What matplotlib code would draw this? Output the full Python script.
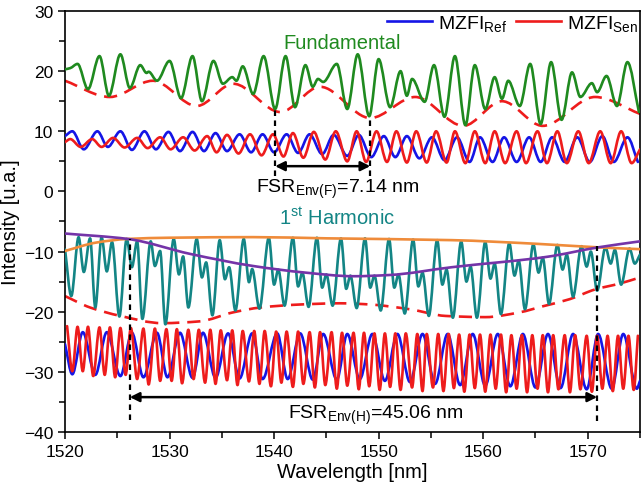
import numpy as np
import matplotlib
matplotlib.use("Agg")
import matplotlib.pyplot as plt
from matplotlib.path import Path
from matplotlib.patches import PathPatch
from matplotlib.lines import Line2D

plt.rcParams['font.family'] = ['Liberation Sans', 'DejaVu Sans']
plt.rcParams['mathtext.fontset'] = 'custom'
plt.rcParams['mathtext.rm'] = 'Liberation Sans'
plt.rcParams['mathtext.it'] = 'Liberation Sans:italic'

# ---------------- data (wavelength nm, intensity a.u.) ----------------
# Fundamental (green) - extrema
fund_x = [1520.0, 1520.5, 1521.2, 1522.2, 1523.3, 1524.2, 1525.3, 1526.2, 1527.2, 1527.8, 1528.0, 1528.8,
          1530.0, 1531.1, 1532.2, 1533.1, 1534.2, 1535.1, 1536.0, 1536.4, 1537.0, 1538.0, 1539.0, 1540.1,
          1541.1, 1542.0, 1543.0, 1543.7, 1544.2, 1544.7, 1546.0, 1547.0, 1548.0, 1549.1, 1550.0, 1551.1,
          1552.1, 1552.7, 1553.2, 1554.4, 1555.3, 1556.3, 1557.3, 1558.3, 1559.2, 1560.2, 1561.1, 1561.8,
          1562.4, 1563.5, 1564.5, 1565.5, 1566.5, 1567.5, 1568.5, 1569.3, 1570.4, 1570.9, 1571.8, 1572.8,
          1573.8, 1574.9]
fund_y = [20.3, 20.5, 21.2, 17.0, 22.5, 15.9, 22.8, 17.2, 21.0, 19.7, 19.9, 18.4,
          21.7, 15.5, 22.5, 15.0, 21.7, 17.9, 19.0, 18.4, 20.8, 16.2, 22.5, 13.7,
          22.5, 14.0, 21.0, 17.4, 18.7, 18.2, 21.2, 13.7, 22.8, 12.5, 22.0, 14.0,
          20.0, 15.9, 18.7, 14.9, 21.0, 12.4, 22.5, 11.0, 21.0, 13.7, 19.0, 15.4,
          18.4, 14.2, 21.2, 11.2, 21.5, 11.9, 19.8, 15.7, 18.0, 16.5, 19.2, 14.2,
          21.5, 13.2]
# lower envelope of the fundamental (red dashed)
fenv_x = [1520.0, 1524.3, 1528.4, 1532.6, 1536.1, 1540.6, 1544.4, 1549.2, 1553.5, 1558.1, 1561.8, 1565.7, 1570.7, 1575.0]
fenv_y = [18.4, 15.7, 18.4, 14.2, 17.9, 13.2, 17.4, 12.2, 15.7, 10.9, 15.0, 10.9, 15.7, 12.9]

# MZFI Ref (blue), upper group
ref_top_x = [1520.0, 1520.7, 1521.8, 1523.1, 1524.1, 1525.3, 1526.4, 1527.6, 1528.7, 1529.9, 1531.0, 1532.2,
             1533.3, 1534.4, 1535.5, 1536.7, 1537.8, 1538.9, 1540.0, 1541.2, 1542.3, 1543.4, 1544.6, 1545.7,
             1547.0, 1548.1, 1549.3, 1550.5, 1551.6, 1552.7, 1553.9, 1555.1, 1556.3, 1557.5, 1558.7, 1559.7,
             1560.9, 1562.0, 1563.2, 1564.4, 1565.5, 1566.6, 1567.8, 1569.0, 1570.2, 1571.4, 1572.5, 1573.8, 1574.8]
ref_top_y = [9.2, 10.0, 7.0, 10.0, 7.4, 10.0, 6.9, 10.0, 7.0, 9.9, 6.7, 9.9,
             6.7, 9.7, 6.7, 9.5, 6.5, 9.5, 6.5, 9.5, 6.4, 9.5, 6.2, 9.4,
             5.9, 9.4, 5.7, 9.2, 5.7, 9.2, 5.5, 9.0, 5.2, 9.0, 4.9, 9.0,
             4.9, 9.0, 4.9, 9.0, 4.9, 9.0, 4.9, 9.0, 4.9, 9.2, 4.9, 9.0, 4.9]
# MZFI Sen (red), upper group
sen_top_x = [1520.0, 1520.5, 1521.5, 1522.6, 1523.5, 1524.6, 1525.7, 1526.9, 1527.9, 1529.1, 1530.1, 1531.3,
             1532.4, 1533.6, 1534.5, 1535.5, 1536.6, 1537.7, 1538.8, 1539.9, 1540.9, 1541.8, 1542.8, 1543.8,
             1544.9, 1545.9, 1547.0, 1547.9, 1548.8, 1549.8, 1550.8, 1551.7, 1552.7, 1553.6, 1554.6, 1555.5,
             1556.5, 1557.3, 1558.3, 1559.2, 1560.2, 1561.1, 1562.1, 1563.2, 1564.1, 1565.2, 1566.1, 1567.1,
             1568.0, 1569.1, 1570.1, 1571.2, 1572.2, 1573.2, 1574.2, 1575.0]
sen_top_y = [8.2, 8.7, 7.4, 8.7, 7.4, 8.9, 7.3, 8.9, 7.2, 9.0, 7.0, 9.0,
             6.8, 9.2, 6.5, 9.4, 6.3, 9.5, 6.0, 9.5, 5.8, 9.7, 5.6, 9.9,
             5.3, 10.0, 5.0, 10.0, 4.9, 10.0, 4.9, 10.0, 4.8, 10.0, 4.8, 10.0,
             4.8, 10.0, 4.7, 10.0, 4.7, 10.0, 4.7, 10.0, 4.7, 10.0, 4.7, 10.0,
             4.7, 10.0, 4.7, 10.0, 4.7, 10.0, 4.7, 7.0]

# 1st harmonic (teal)
harm_x = [1520.0, 1520.6, 1521.3, 1521.8, 1522.4, 1522.9, 1523.5, 1524.0, 1524.5, 1525.2, 1525.9, 1526.4,
          1526.9, 1527.4, 1528.2, 1528.6, 1529.1, 1529.6, 1530.4, 1530.9, 1531.3, 1531.8, 1532.6, 1533.1,
          1533.5, 1534.1, 1534.8, 1535.3, 1535.7, 1536.3, 1537.1, 1537.6, 1537.9, 1538.6, 1539.5, 1540.0,
          1540.4, 1541.0, 1541.8, 1542.3, 1542.7, 1543.3, 1544.1, 1544.6, 1545.0, 1545.6, 1546.4, 1546.9,
          1547.3, 1547.9, 1548.7, 1549.2, 1549.6, 1550.2, 1551.0, 1551.5, 1551.9, 1552.5, 1553.3, 1553.8,
          1554.2, 1554.8, 1555.6, 1556.1, 1556.5, 1557.1, 1557.9, 1558.4, 1558.8, 1559.4, 1560.2, 1560.7,
          1561.1, 1561.7, 1562.5, 1563.0, 1563.4, 1564.0, 1564.8, 1565.3, 1565.7, 1566.3, 1567.1, 1567.6,
          1568.0, 1568.6, 1569.4, 1569.9, 1570.3, 1570.9, 1571.7, 1572.2, 1572.6, 1573.2, 1574.0, 1574.5, 1575.0]
harm_y = [-9.6, -17.4, -7.6, -13.4, -7.8, -19.3, -7.6, -13.3, -8.4, -20.8, -7.9, -12.6,
          -8.3, -21.2, -8.3, -12.4, -9.9, -22.1, -7.9, -13.8, -10.8, -19.3, -7.9, -14.3,
          -11.8, -20.6, -8.1, -14.6, -12.6, -19.8, -7.9, -15.1, -12.9, -19.5, -7.7, -15.5,
          -13.0, -19.0, -7.7, -15.8, -13.5, -19.2, -7.7, -16.0, -13.8, -19.0, -7.8, -16.2,
          -14.0, -19.4, -7.8, -16.0, -14.0, -19.8, -7.9, -16.0, -13.8, -20.3, -8.0, -15.8,
          -13.5, -20.7, -8.1, -15.5, -13.0, -21.0, -8.3, -15.0, -12.5, -21.0, -8.4, -14.5,
          -12.0, -20.4, -8.6, -14.0, -11.5, -19.6, -8.8, -13.5, -11.0, -18.7, -8.9, -13.0,
          -10.5, -17.5, -9.1, -12.5, -10.0, -16.5, -9.3, -12.0, -9.7, -15.5, -9.5, -12.0, -10.5]
# harmonic envelopes
henv_x = [1520.0, 1522.4, 1525.3, 1529.3, 1532.9, 1536.1, 1538.7, 1542.5, 1546.3, 1549.2, 1553.0, 1556.4,
          1560.2, 1563.5, 1565.7, 1568.3, 1570.7, 1573.1, 1575.0]
henv_y = [-17.4, -19.3, -20.7, -21.9, -21.6, -20.1, -19.3, -18.8, -18.6, -18.8, -19.6, -20.7,
          -20.9, -20.1, -19.1, -17.9, -16.3, -15.3, -14.3]
orange_x = [1520.0, 1523.0, 1526.0, 1530.0, 1538.0, 1545.0, 1557.0, 1565.0, 1571.0, 1575.0]
orange_y = [-9.9, -8.5, -7.9, -7.7, -7.6, -7.8, -8.1, -8.7, -9.3, -9.6]
purple_x = [1520.0, 1526.0, 1532.0, 1538.0, 1543.0, 1547.6, 1551.0, 1557.0, 1566.0, 1571.0, 1575.0]
purple_y = [-7.0, -7.9, -10.4, -12.4, -13.5, -14.1, -13.9, -12.6, -10.9, -9.3, -8.3]

# MZFI Ref (blue), lower group
ref_h_x = [1520.0, 1520.7, 1521.7, 1522.9, 1524.0, 1525.3, 1526.4, 1527.5, 1528.8, 1529.8, 1531.0, 1532.2,
           1533.2, 1534.4, 1535.6, 1536.7, 1537.9, 1538.9, 1540.3, 1541.3, 1542.5, 1543.7, 1544.7, 1546.0,
           1547.0, 1548.2, 1549.4, 1550.6, 1551.8, 1553.0, 1554.2, 1555.4, 1556.6, 1557.8, 1559.0, 1560.2,
           1561.4, 1562.6, 1563.8, 1565.0, 1566.2, 1567.4, 1568.6, 1569.9, 1571.0, 1572.3, 1573.4, 1574.7, 1575.0]
ref_h_y = [-25.4, -30.4, -23.4, -30.5, -23.4, -30.7, -23.5, -30.9, -23.5, -30.9, -23.5, -31.0,
           -23.5, -31.0, -23.6, -31.1, -23.6, -31.2, -23.6, -31.2, -23.6, -31.3, -23.7, -31.3,
           -23.7, -31.2, -23.7, -31.5, -23.7, -31.7, -23.7, -32.0, -23.7, -32.2, -23.7, -32.3,
           -23.7, -32.4, -23.7, -32.6, -23.7, -32.7, -23.7, -32.9, -23.7, -32.8, -23.7, -32.8, -31.5]
# MZFI Sen (red), lower group
sen_h_peak_x = [1520.2, 1521.2, 1522.2, 1523.3, 1524.3, 1525.3, 1526.3, 1527.5, 1528.6, 1529.7, 1530.7, 1531.8,
                1532.8, 1533.9, 1534.9, 1536.0, 1537.0, 1538.1, 1539.1, 1540.2, 1541.2, 1542.3, 1543.4, 1544.4,
                1545.5, 1546.5, 1547.6, 1548.6, 1549.6, 1550.6, 1551.6, 1552.6, 1553.7, 1554.6, 1555.7, 1556.7,
                1557.7, 1558.7, 1559.7, 1560.7, 1561.7, 1562.7, 1563.7, 1564.7, 1565.7, 1566.7, 1567.8, 1568.8,
                1569.9, 1570.9, 1571.9, 1572.9, 1573.9, 1574.8]
sen_h_peak_y = [-22.4, -22.5, -22.5, -22.6, -22.6, -22.7, -22.7, -22.8, -22.8, -22.9, -22.9, -23.0,
                -23.0, -23.0, -23.1, -23.1, -23.2, -23.2, -23.2, -23.3, -23.3, -23.3, -23.4, -23.4,
                -23.4, -23.5, -23.5, -23.5, -23.6, -23.6, -23.6, -23.6, -23.7, -23.7, -23.7, -23.7,
                -23.8, -23.8, -23.8, -23.8, -23.8, -23.9, -23.9, -23.9, -23.9, -23.9, -23.9, -23.9,
                -24.0, -24.0, -24.0, -24.0, -24.0, -24.0]
sen_h_trough_x = [1520.7, 1521.7, 1522.7, 1523.8, 1524.8, 1525.8, 1526.9, 1528.0, 1529.1, 1530.2, 1531.2, 1532.3,
                  1533.4, 1534.4, 1535.5, 1536.5, 1537.6, 1538.6, 1539.7, 1540.7, 1541.8, 1542.8, 1543.9, 1544.9,
                  1546.0, 1547.0, 1548.1, 1549.1, 1550.1, 1551.1, 1552.1, 1553.2, 1554.2, 1555.2, 1556.2, 1557.2,
                  1558.2, 1559.2, 1560.2, 1561.2, 1562.2, 1563.2, 1564.2, 1565.2, 1566.2, 1567.2, 1568.3, 1569.3,
                  1570.4, 1571.4, 1572.4, 1573.4, 1574.4]
sen_h_trough_y = [-29.9, -29.9, -30.7, -30.5, -30.9, -30.5, -31.2, -32.1, -31.5, -31.5, -31.9, -31.2,
                  -31.8, -32.0, -31.4, -32.2, -31.6, -32.0, -32.4, -31.8, -32.5, -32.0, -32.6, -32.2,
                  -32.8, -32.3, -32.9, -32.4, -33.0, -32.5, -33.0, -32.6, -33.2, -32.6, -33.2, -32.7,
                  -33.3, -32.7, -33.3, -32.8, -33.4, -32.8, -33.4, -32.8, -33.4, -32.9, -33.4, -32.9,
                  -33.3, -32.8, -33.2, -32.8, -33.0]

# annotations
fsr_f_lines = [1540.1, 1549.2]
fsr_h_lines = [1526.2, 1570.9]
fsr_f_text = r'FSR$_{\mathrm{Env(F)}}$=7.14 nm'
fsr_h_text = r'FSR$_{\mathrm{Env(H)}}$=45.06 nm'

# ---------------- drawing ----------------
GREEN = '#1f8a1f'
BLUE = '#1515e6'
RED = '#ee1c1c'
TEAL = '#138585'
ORANGE = '#ef8b3a'
PURPLE = '#7434a8'


def smooth_path(x, y):
    """Monotone (Fritsch-Carlson) cubic Bezier path through the given points."""
    x = np.asarray(x, float)
    y = np.asarray(y, float)
    h = np.diff(x)
    d = np.diff(y) / h
    m = np.zeros_like(y)
    m[0] = d[0]
    m[-1] = d[-1]
    for i in range(1, len(x) - 1):
        if d[i - 1] * d[i] <= 0:
            m[i] = 0.0
        else:
            w1 = 2 * h[i] + h[i - 1]
            w2 = h[i] + 2 * h[i - 1]
            m[i] = (w1 + w2) / (w1 / d[i - 1] + w2 / d[i])
    verts = [(x[0], y[0])]
    codes = [Path.MOVETO]
    for i in range(len(x) - 1):
        verts.append((x[i] + h[i] / 3, y[i] + m[i] * h[i] / 3))
        verts.append((x[i + 1] - h[i] / 3, y[i + 1] - m[i + 1] * h[i] / 3))
        verts.append((x[i + 1], y[i + 1]))
        codes += [Path.CURVE4] * 3
    return Path(verts, codes)


def curve(ax, x, y, color, lw=1.9, ls='-', z=2):
    p = PathPatch(smooth_path(x, y), facecolor='none', edgecolor=color, lw=lw,
                  linestyle=ls, zorder=z, capstyle='round' if ls == '-' else 'butt',
                  joinstyle='round')
    ax.add_patch(p)


def interleave(px, py, tx, ty):
    xs = list(px) + list(tx)
    ys = list(py) + list(ty)
    order = np.argsort(xs)
    return [xs[i] for i in order], [ys[i] for i in order]


fig = plt.figure(figsize=(6.41, 4.89), dpi=100)
ax = fig.add_axes([0.1014, 0.1145, 0.897, 0.861])

dash = (0, (5, 3))
curve(ax, fund_x, fund_y, GREEN, z=3)
curve(ax, fenv_x, fenv_y, RED, ls=dash, z=2)
curve(ax, ref_top_x, ref_top_y, BLUE, z=3)
curve(ax, sen_top_x, sen_top_y, RED, z=4)
curve(ax, harm_x, harm_y, TEAL, z=3)
curve(ax, henv_x, henv_y, RED, ls=dash, z=2)
curve(ax, orange_x, orange_y, ORANGE, z=4)
curve(ax, purple_x, purple_y, PURPLE, z=5)
curve(ax, ref_h_x, ref_h_y, BLUE, z=3)
shx, shy = interleave(sen_h_peak_x, sen_h_peak_y, sen_h_trough_x, sen_h_trough_y)
curve(ax, shx, shy, RED, z=4)

# FSR markers
ax.vlines(fsr_f_lines[0], 2.5, 13.7, colors='black', linestyles=(0, (2.5, 2)), lw=1.6, zorder=6)
ax.vlines(fsr_f_lines[1], 2.5, 12.5, colors='black', linestyles=(0, (2.5, 2)), lw=1.6, zorder=6)
ax.annotate('', xy=(fsr_f_lines[0], 4.2), xytext=(fsr_f_lines[1], 4.2),
            arrowprops=dict(arrowstyle='<|-|>', color='black', lw=1.8, mutation_scale=14,
                            shrinkA=0, shrinkB=0), zorder=6)
ax.text(1538.3, -0.1, fsr_f_text, fontsize=14, ha='left', va='baseline', color='black')

ax.vlines(fsr_h_lines[0], -38.0, -7.9, colors='black', linestyles=(0, (2.5, 2)), lw=1.6, zorder=6)
ax.vlines(fsr_h_lines[1], -38.2, -9.1, colors='black', linestyles=(0, (2.5, 2)), lw=1.6, zorder=6)
ax.annotate('', xy=(fsr_h_lines[0], -34.2), xytext=(fsr_h_lines[1], -34.2),
            arrowprops=dict(arrowstyle='<|-|>', color='black', lw=1.8, mutation_scale=14,
                            shrinkA=0, shrinkB=0), zorder=6)
ax.text(1541.3, -37.6, fsr_h_text, fontsize=14, ha='left', va='baseline', color='black')

ax.text(1546.5, 24.8, 'Fundamental', fontsize=14.5, color=GREEN, ha='center', va='center')
ax.text(1546.0, -4.3, r'1$^{\mathrm{st}}$ Harmonic', fontsize=14.5, color=TEAL, ha='center', va='center')

handles = [Line2D([], [], color=BLUE, lw=1.9), Line2D([], [], color=RED, lw=1.9)]
ax.legend(handles, [r'MZFI$_{\mathrm{Ref}}$', r'MZFI$_{\mathrm{Sen}}$'], loc='upper right', ncol=2,
          frameon=False, fontsize=14, handlelength=2.3, columnspacing=0.5, handletextpad=0.3,
          borderaxespad=0.0, borderpad=0.1)

ax.set_xlim(1520, 1575)
ax.set_ylim(-40, 30)
ax.set_xticks(np.arange(1520, 1571, 10))
ax.set_xticks(np.arange(1525, 1576, 10), minor=True)
ax.set_yticks(np.arange(-40, 31, 10))
ax.set_yticks(np.arange(-35, 30, 10), minor=True)
ax.tick_params(which='both', direction='out', labelsize=12.5, width=1.1)
ax.tick_params(which='major', length=5)
ax.tick_params(which='minor', length=4)
ax.tick_params(top=False, right=False)
for s in ax.spines.values():
    s.set_linewidth(1.2)
ax.set_xlabel('Wavelength [nm]', fontsize=14.5, labelpad=2)
ax.set_ylabel('Intensity [u.a.]', fontsize=14.5, labelpad=3)

fig.savefig('out.png', dpi=100)
